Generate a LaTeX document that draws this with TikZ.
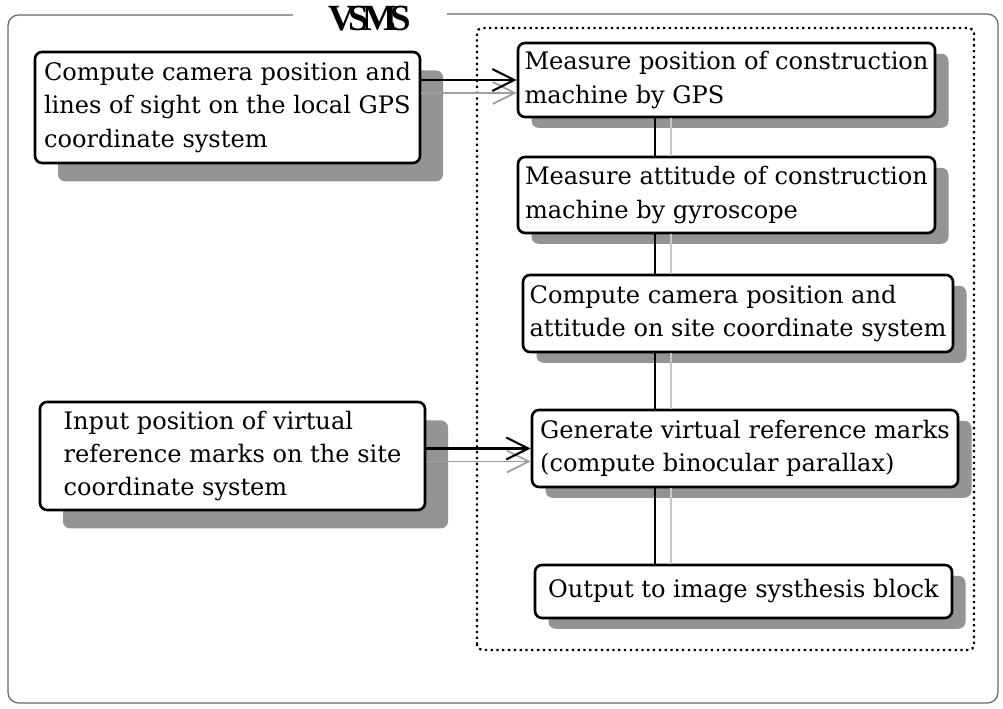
\documentclass[tikz,border=0pt]{standalone}
\usepackage{fontspec}
\setmainfont{DejaVu Serif}
\newfontfamily\titlefont{Liberation Serif}
\usetikzlibrary{arrows.meta,calc,shadows}

\tikzset{
  procbox/.style={draw,fill=white,rounded corners=4pt,line width=1.5pt,align=left,
    inner sep=0pt,font=\fontsize{13.7}{19}\selectfont,
    drop shadow={shadow xshift=#1,shadow yshift=-0.8*#1,fill=black!42,opacity=1}},
  procbox/.default=0.27cm,
  link/.style={line width=1.2pt,
    preaction={draw=black!22,line width=0.9pt,transform canvas={xshift=0.32cm}}},
  feed/.style={line width=1.2pt,-{Straight Barb[length=0.44cm,width=0.44cm]},
    preaction={draw=black!38,line width=1pt,transform canvas={yshift=-0.26cm}}},
  frame/.style={draw=black!60,line width=0.7pt,rounded corners=6pt},
}

\begin{document}
\begin{tikzpicture}[>=Stealth]
\useasboundingbox (0,0) rectangle (20.06,14.18);
% ---------- outer frame with title ----------
\node[minimum width=3.06cm,inner sep=0pt] (title) at (7.4,13.8)
  {\titlefont\bfseries\fontsize{21}{22}\selectfont V\kern-3.8pt S\kern-3.8pt M\kern-3.8pt S};
\draw[frame] (title.west |- 0,13.88) -- (0.16,13.88) -- (0.16,0.12)
  -- (19.96,0.12) -- (19.96,13.9) -- (title.east |- 0,13.9);
% dotted container of the on-board steps
\draw[dotted,line width=1.3pt,rounded corners=3pt] (9.54,1.18) rectangle (19.48,13.62);
% ---------- left column: inputs ----------
\node[procbox=0.46cm,minimum width=7.7cm,minimum height=2.22cm] (L1) at (4.55,12.03)
  {Compute camera position and\\lines of sight on the local GPS\\coordinate system};
\node[procbox=0.46cm,minimum width=7.7cm,minimum height=2.16cm] (L2) at (4.65,5.06)
  {Input position of virtual\\reference marks on the site\\coordinate system};
% ---------- right column: processing chain ----------
\node[procbox,minimum width=8.34cm,minimum height=1.48cm] (R1) at (14.53,12.58)
  {Measure position of construction\\machine by GPS};
\node[procbox,minimum width=8.34cm,minimum height=1.52cm] (R2) at (14.53,10.28)
  {Measure attitude of construction\\machine by gyroscope};
\node[procbox,minimum width=8.6cm,minimum height=1.54cm] (R3) at (14.76,7.91)
  {Compute camera position and\\attitude on site coordinate system};
\node[procbox,minimum width=8.52cm,minimum height=1.54cm] (R4) at (14.9,5.21)
  {Generate virtual reference marks\\(compute binocular parallax)};
\node[procbox,minimum width=8.34cm,minimum height=1.06cm] (R5) at (14.87,2.35)
  {Output to image systhesis block};
% ---------- connectors ----------
\coordinate (spine) at (13.1,0);
\foreach \a/\b in {R1/R2,R2/R3,R3/R4,R4/R5}
  \draw[link] (\a.south -| spine) -- (\b.north -| spine);
\draw[feed] (L1.east |- R1.west) -- (R1.west);
\draw[feed] (L2.east |- R4.west) -- (R4.west);
\end{tikzpicture}
\end{document}
